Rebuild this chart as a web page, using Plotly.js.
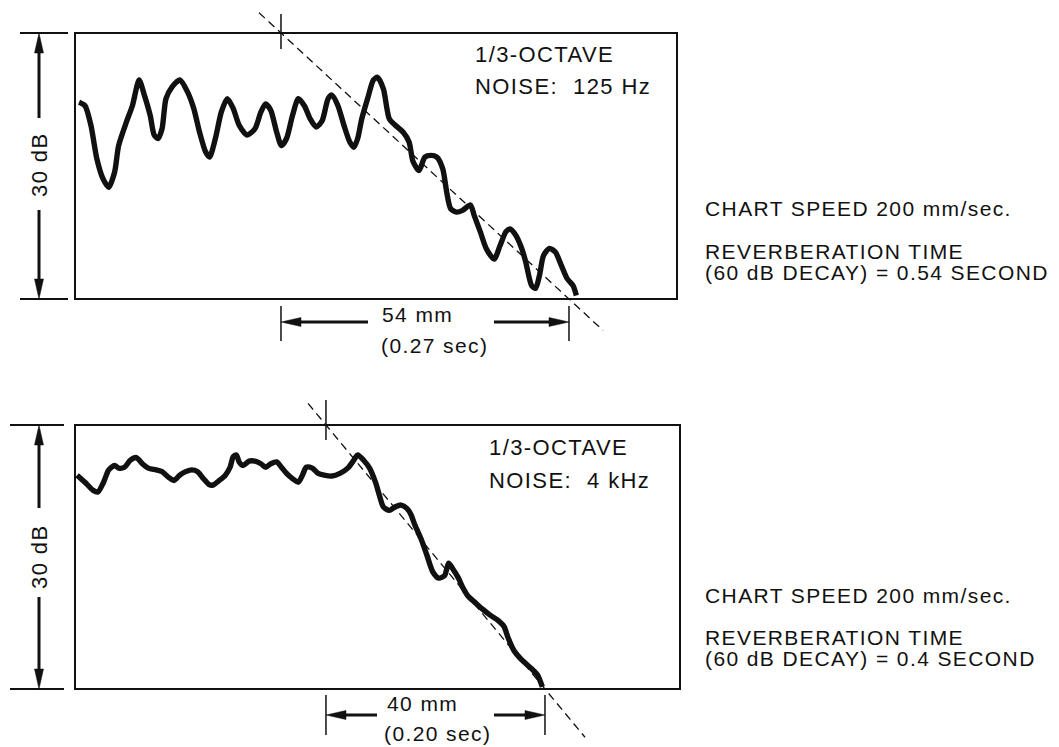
<!DOCTYPE html>
<html><head><meta charset="utf-8">
<script src="https://cdn.plot.ly/plotly-3.0.1.min.js"></script>
<style>
html,body{margin:0;padding:0;background:#fff;}
#chart{width:1059px;height:747px;}
.annotation-text{letter-spacing:1.4px;}
</style>
</head><body><div id="chart"></div>
<script>
// ---------- DATA ----------
// 1/3-octave noise, 125 Hz: time (s) vs relative level (dB)
const t125 = [0.0038,0.0094,0.0149,0.0205,0.0261,0.0316,0.0371,0.0409,0.0483,0.0538,0.0601,0.0650,0.0705,0.0742,0.0779,0.0816,0.0853,0.0909,0.0983,0.1057,0.1113,0.1168,0.1224,0.1261,0.1316,0.1372,0.1428,0.1483,0.1539,0.1613,0.1687,0.1743,0.1787,0.1835,0.1891,0.1935,0.1983,0.2039,0.2094,0.2150,0.2206,0.2261,0.2317,0.2373,0.2409,0.2465,0.2521,0.2576,0.2614,0.2650,0.2688,0.2743,0.2798,0.2836,0.2891,0.2947,0.3003,0.3077,0.3132,0.3169,0.3225,0.3280,0.3336,0.3392,0.3447,0.3484,0.3521,0.3577,0.3633,0.3707,0.3743,0.3799,0.3855,0.3929,0.3984,0.4040,0.4077,0.4132,0.4188,0.4225,0.4281,0.4318,0.4355,0.4392,0.4447,0.4503,0.4559,0.4614,0.4670,0.4700];
const level125 = [22.2,21.8,19.6,15.8,13.6,12.6,14.3,17.3,20.0,21.8,24.7,23.0,20.7,18.5,18.1,19.2,22.6,23.9,24.7,23.3,21.5,18.8,16.6,16.0,18.1,21.1,22.6,21.5,19.6,18.5,19.2,21.1,22.0,21.3,18.8,17.3,18.1,20.7,22.6,21.8,20.3,19.4,20.1,22.6,23.0,21.8,19.6,17.7,17.1,18.1,20.3,22.6,24.7,25.0,23.7,20.3,19.6,18.8,17.7,15.5,14.5,16.0,16.2,16.0,14.7,12.1,10.2,9.8,10.0,10.6,9.4,7.6,5.7,4.5,6.0,7.6,7.9,7.2,5.7,4.2,1.5,1.2,2.7,4.9,5.7,5.3,3.8,2.3,1.5,0.4];

// 1/3-octave noise, 4 kHz
const t4k = [0.0019,0.0091,0.0163,0.0210,0.0261,0.0308,0.0362,0.0398,0.0452,0.0506,0.0561,0.0615,0.0669,0.0741,0.0795,0.0849,0.0903,0.0957,0.1011,0.1066,0.1120,0.1174,0.1228,0.1264,0.1318,0.1373,0.1416,0.1445,0.1474,0.1499,0.1535,0.1589,0.1643,0.1698,0.1741,0.1788,0.1842,0.1885,0.1932,0.1986,0.2040,0.2077,0.2112,0.2167,0.2221,0.2275,0.2347,0.2419,0.2491,0.2546,0.2582,0.2636,0.2690,0.2744,0.2780,0.2816,0.2870,0.2925,0.2979,0.3033,0.3069,0.3105,0.3159,0.3214,0.3268,0.3322,0.3376,0.3412,0.3448,0.3502,0.3539,0.3593,0.3647,0.3719,0.3791,0.3863,0.3918,0.3953,0.4007,0.4080,0.4170,0.4224,0.4268];
const level4k = [24.3,23.5,22.6,22.4,23.5,24.9,25.4,25.1,25.2,26.0,26.3,25.6,25.1,24.9,24.7,24.1,23.7,24.3,24.7,24.9,24.7,23.9,23.2,23.2,23.7,24.3,25.2,26.4,26.6,25.8,25.4,25.9,25.9,25.6,25.2,25.6,25.8,25.2,24.5,23.9,23.5,24.3,25.2,25.1,24.5,24.3,24.2,24.5,25.1,26.0,26.6,26.0,25.1,23.5,22.0,20.7,20.3,20.7,20.9,20.5,19.8,18.6,17.1,15.2,13.3,12.6,12.9,14.3,13.7,12.6,11.6,10.5,9.9,9.1,8.4,7.8,7.1,5.9,4.4,3.3,2.3,1.6,0.25];

// decay fits: start time (s) at 30 dB, duration (s) of 30 dB decay
const decayStart = [0.1931, 0.2292];
const decayDur = [0.27, 0.20];
const decayMm = [54, 40];
const rangeDb = 30;

// text labels
const bandLine1 = ['1/3-OCTAVE', '1/3-OCTAVE'];
const bandLine2 = ['NOISE:\u00a0\u00a0125 Hz', 'NOISE:\u00a0\u00a04 kHz'];
const speedText = ['CHART SPEED 200 mm/sec.', 'CHART SPEED 200 mm/sec.'];
const rtLine1 = ['REVERBERATION TIME', 'REVERBERATION TIME'];
const rtLine2 = ['(60 dB DECAY) = 0.54 SECOND', '(60 dB DECAY) = 0.4 SECOND'];
const dbLabel = '30\u00a0dB';

// ---------- LAYOUT GEOMETRY ----------
const W = 1059, H = 747;
const panes = [
  {boxL:75, boxR:677, boxT:33, boxB:299, pxs:1066.7, paneTop:0, paneBot:373,
   arrowX:39, tickL:[20,68], ticksTop:[14,49], dimY:322, dimTick:[306,341],
   tailL:368, tailR:494, mmX:417, mmY:314, secX:434, secY:345, fitExt:[259,603],
   arrTailUp:118, arrTailDn:210, dbTextY:165, bandX:473, band1Y:54, band2Y:86,
   rightY:[208,252,272], xa:'x', ya:'y'},
  {boxL:75, boxR:680, boxT:425, boxB:689, pxs:1095, paneTop:374, paneBot:747,
   arrowX:39, tickL:[10,64], ticksTop:[400,440], dimY:715, dimTick:[695,735],
   tailL:377, tailR:494, mmX:422, mmY:703, secX:437, secY:733, fitExt:[308,585],
   arrTailUp:508, arrTailDn:597, dbTextY:557, bandX:487, band1Y:447, band2Y:480,
   rightY:[595,637,658], xa:'x2', ya:'y2'}
];
panes.forEach(p => { p.pxDb = (p.boxB - p.boxT) / rangeDb; });
// pixel -> data helpers
const tx = (p, px) => (px - p.boxL) / p.pxs;
const ty = (p, py) => (p.boxB - py) / p.pxDb;

const FONT = 'Liberation Sans, Arial, Helvetica, sans-serif';
const INK = '#111111';
const shapes = [], annotations = [];

function line(p, x0, y0, x1, y1, w, dash, layer) {
  shapes.push({type:'line', xref:p.xa, yref:p.ya, x0, y0, x1, y1, layer: layer||'above',
    line:{color:INK, width:w, dash: dash||'solid'}});
}
function head(p, x, y, dir) {
  const L = 20, hw = 4.5;
  const dx = v => v / p.pxs, dy = v => v / p.pxDb;
  let pts;
  if (dir === 'up') pts = [[x,y],[x-dx(hw),y-dy(L)],[x+dx(hw),y-dy(L)]];
  else if (dir === 'down') pts = [[x,y],[x-dx(hw),y+dy(L)],[x+dx(hw),y+dy(L)]];
  else if (dir === 'left') pts = [[x,y],[x+dx(L),y+dy(hw)],[x+dx(L),y-dy(hw)]];
  else pts = [[x,y],[x-dx(L),y+dy(hw)],[x-dx(L),y-dy(hw)]];
  shapes.push({type:'path', xref:p.xa, yref:p.ya, layer:'above',
    path:'M' + pts.map(q => q[0] + ',' + q[1]).join('L') + 'Z',
    fillcolor:INK, line:{color:INK, width:0.5}});
}
function text(p, x, y, s, opts) {
  annotations.push(Object.assign({xref:p.xa, yref:p.ya, x, y, text:s, showarrow:false,
    font:{family:FONT, size:21, color:INK}}, opts||{}));
}

const traces = [];
const series = [[t125, level125], [t4k, level4k]];

panes.forEach((p, i) => {
  traces.push({type:'scatter', mode:'lines', x:series[i][0], y:series[i][1],
    xaxis:p.xa, yaxis:p.ya, hoverinfo:'skip',
    line:{color:INK, width:5.4, shape:'spline', smoothing:0.7}});

  // frame
  shapes.push({type:'rect', xref:p.xa, yref:p.ya, x0:0, x1:tx(p,p.boxR), y0:0, y1:rangeDb,
    layer:'below', line:{color:INK, width:2}, fillcolor:'rgba(0,0,0,0)'});

  // decay fit (dashed)
  const ts = decayStart[i], te = decayStart[i] + decayDur[i];
  const slope = rangeDb / decayDur[i];
  const fx0 = tx(p, p.fitExt[0]), fx1 = tx(p, p.fitExt[1]);
  line(p, fx0, rangeDb - (fx0 - ts) * slope, fx1, rangeDb - (fx1 - ts) * slope, 1.3, '8px,5px', 'below');
  // cross tick at decay start
  line(p, ts, ty(p, p.ticksTop[0]), ts, ty(p, p.ticksTop[1]), 1.5);

  // time dimension below
  line(p, ts, ty(p, p.dimTick[0]), ts, ty(p, p.dimTick[1]), 1.5);
  line(p, te, ty(p, p.dimTick[0]), te, ty(p, p.dimTick[1]), 1.5);
  const dimY = ty(p, p.dimY);
  line(p, ts + 10 / p.pxs, dimY, tx(p, p.tailL), dimY, 3);
  head(p, ts, dimY, 'left');
  line(p, tx(p, p.tailR), dimY, te - 10 / p.pxs, dimY, 3);
  head(p, te, dimY, 'right');
  text(p, tx(p, p.mmX), ty(p, p.mmY), decayMm[i] + ' mm', {xanchor:'center', yanchor:'middle'});
  text(p, tx(p, p.secX), ty(p, p.secY), '(' + decayDur[i].toFixed(2) + ' sec)', {xanchor:'center', yanchor:'middle'});

  // level dimension at left
  const ax = tx(p, p.arrowX);
  line(p, tx(p, p.tickL[0]), rangeDb, tx(p, p.tickL[1]), rangeDb, 2);
  line(p, tx(p, p.tickL[0]), 0, tx(p, p.tickL[1]), 0, 2);
  line(p, ax, ty(p, p.arrTailUp), ax, rangeDb - 10 / p.pxDb, 3);
  head(p, ax, rangeDb, 'up');
  line(p, ax, ty(p, p.arrTailDn), ax, 10 / p.pxDb, 3);
  head(p, ax, 0, 'down');
  text(p, ax, ty(p, p.dbTextY), dbLabel, {textangle:-90, xanchor:'center', yanchor:'middle', font:{family:FONT, size:22, color:INK}});

  // band labels
  text(p, tx(p, p.bandX), ty(p, p.band1Y), bandLine1[i], {xanchor:'left', yanchor:'middle', font:{family:FONT, size:22, color:INK}});
  text(p, tx(p, p.bandX), ty(p, p.band2Y), bandLine2[i], {xanchor:'left', yanchor:'middle', font:{family:FONT, size:22, color:INK}});

  // right-hand notes (paper coords)
  [speedText[i], rtLine1[i], rtLine2[i]].forEach((s, k) => {
    annotations.push({xref:'paper', yref:'paper', x:703 / W, y:1 - p.rightY[k] / H, text:s,
      showarrow:false, xanchor:'left', yanchor:'middle', font:{family:FONT, size:21, color:INK}});
  });
});

function axes(p) {
  return {
    x: {domain:[0,1], range:[tx(p,0), tx(p,W)], visible:false, fixedrange:true, anchor:p.ya},
    y: {domain:[1 - p.paneBot / H, 1 - p.paneTop / H], range:[ty(p,p.paneBot), ty(p,p.paneTop)],
        visible:false, fixedrange:true, anchor:p.xa}
  };
}
const a0 = axes(panes[0]), a1 = axes(panes[1]);

const layout = {
  width:W, height:H, autosize:false, showlegend:false,
  margin:{l:0, r:0, t:0, b:0, pad:0},
  paper_bgcolor:'#ffffff', plot_bgcolor:'rgba(0,0,0,0)',
  xaxis:a0.x, yaxis:a0.y, xaxis2:a1.x, yaxis2:a1.y,
  shapes, annotations
};

Plotly.newPlot('chart', traces, layout, {staticPlot:true, displayModeBar:false});
</script>
</body></html>
